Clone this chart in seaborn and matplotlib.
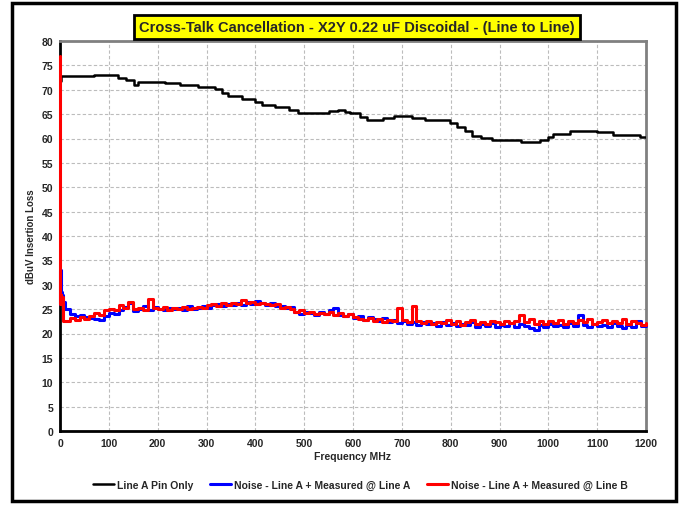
import matplotlib
matplotlib.use('Agg')
import matplotlib.pyplot as plt
import seaborn as sns
import numpy as np
from matplotlib.patches import Rectangle

# Line A pin only (step breakpoints, MHz / dBuV)
pin_freq = [0, 2, 70, 118, 136, 152, 160, 215, 246, 283, 317, 331, 345, 372, 399,
            413, 440, 468, 488, 550, 570, 584, 594, 614, 628, 662, 683, 720, 747,
            798, 812, 829, 843, 863, 884, 945, 983, 1000, 1010, 1044, 1099, 1133,
            1188, 1200]
pin_vals = [71.8, 72.8, 73.0, 72.5, 72.1, 71.0, 71.6, 71.4, 70.9, 70.5, 70.1, 69.4,
            68.8, 68.2, 67.5, 66.8, 66.5, 65.8, 65.3, 65.6, 65.9, 65.5, 65.2, 64.5,
            63.8, 64.3, 64.7, 64.3, 63.8, 63.2, 62.3, 61.6, 60.6, 60.1, 59.6, 59.3,
            59.7, 60.3, 60.9, 61.6, 61.3, 60.8, 60.4, 60.4]

# noise measurements
start_freq = [0, 1, 2, 3, 5, 7]
grid_freq = list(range(10, 1201, 10))
noise_freq = start_freq + grid_freq

line_a_vals = [26.0, 33.0, 31.5, 28.5, 28.0, 26.5,
               25.0, 24.0, 23.5, 23.8, 23.4, 23.2, 23.0, 22.8, 23.6, 24.2,
               24.0, 24.8, 25.5, 26.2, 24.7, 25.0, 25.6, 24.8, 25.4, 25.1,
               24.8, 25.2, 25.0, 25.3, 24.8, 25.6, 25.0, 25.2, 25.6, 25.3,
               25.8, 26.1, 25.6, 26.0, 25.8, 26.3, 25.9, 26.4, 26.0, 26.6,
               26.2, 25.9, 26.3, 25.7, 25.6, 25.2, 25.4, 24.4, 24.0, 24.5,
               24.2, 23.8, 24.4, 24.0, 24.9, 25.2, 23.8, 23.5, 23.9, 23.2,
               23.6, 22.8, 23.3, 22.9, 22.5, 23.1, 22.4, 22.7, 22.2, 22.5,
               22.0, 22.3, 21.7, 22.4, 21.9, 22.2, 21.6, 22.3, 21.8, 22.1,
               21.5, 22.0, 21.7, 22.3, 21.4, 21.9, 21.6, 22.2, 21.3, 21.8,
               21.5, 22.1, 21.4, 21.9, 21.6, 21.2, 20.8, 21.7, 21.4, 22.0,
               21.5, 21.8, 21.3, 22.2, 21.6, 23.8, 21.7, 21.4, 22.0, 21.5,
               21.8, 21.3, 22.1, 21.6, 21.2, 21.8, 21.4, 22.6, 21.5, 21.7]

line_b_vals = [77.0, 26.0, 28.0, 26.0, 27.5, 22.5,
               22.5, 23.2, 22.8, 23.3, 23.0, 23.6, 24.3, 23.8, 24.8, 25.0,
               24.8, 25.8, 25.2, 26.5, 25.0, 25.2, 24.8, 27.0, 25.3, 25.0,
               25.5, 24.9, 25.2, 25.0, 25.4, 25.1, 25.3, 25.5, 25.2, 25.8,
               26.0, 25.7, 26.2, 25.9, 26.3, 26.1, 26.8, 26.2, 26.4, 26.0,
               26.3, 26.1, 25.8, 26.0, 25.3, 25.5, 25.1, 24.5, 24.8, 24.2,
               24.5, 24.0, 24.3, 24.1, 24.4, 23.8, 24.2, 23.6, 23.9, 23.4,
               23.0, 22.7, 23.1, 22.6, 22.9, 22.4, 22.8, 22.5, 25.2, 22.7,
               22.3, 25.6, 22.6, 22.2, 22.5, 21.9, 22.4, 22.1, 22.8, 22.0,
               22.5, 21.8, 22.3, 22.7, 21.9, 22.4, 22.0, 22.6, 22.3, 21.9,
               22.6, 22.1, 22.5, 23.8, 22.4, 22.9, 22.0, 22.5, 21.9, 22.6,
               22.2, 22.8, 22.0, 22.5, 22.1, 22.7, 22.3, 22.9, 22.0, 22.4,
               22.8, 22.1, 22.6, 22.2, 22.9, 22.0, 22.5, 22.2, 21.8, 22.1]

sns.set_style('white')
plt.rcParams['font.family'] = ['Liberation Sans', 'DejaVu Sans']
plt.rcParams['font.weight'] = 'bold'

fig = plt.figure(figsize=(6.8, 5.06), dpi=100)
ax = fig.add_axes([60 / 680, 1 - 432 / 506, 586 / 680, 390 / 506])

sns.lineplot(x=pin_freq, y=pin_vals, ax=ax, color='black', linewidth=1.8,
             drawstyle='steps-post', estimator=None, sort=False, zorder=3,
             label='Line A Pin Only')
sns.lineplot(x=noise_freq, y=line_a_vals, ax=ax, color='#0000ff', linewidth=2.2,
             drawstyle='steps-post', estimator=None, sort=False, zorder=3,
             clip_on=False, label='Noise - Line A + Measured @ Line A')
sns.lineplot(x=noise_freq, y=line_b_vals, ax=ax, color='#ff0000', linewidth=2.2,
             drawstyle='steps-post', estimator=None, sort=False, zorder=3,
             clip_on=False, label='Noise - Line A + Measured @ Line B')

ax.set_xlim(0, 1200)
ax.set_ylim(0, 80)
ax.set_xticks(range(0, 1201, 100))
ax.set_yticks(range(0, 81, 5))
ax.grid(True, color='#bcbcbc', linestyle=(0, (3, 2)), linewidth=0.8)
ax.set_axisbelow(True)
ax.tick_params(axis='both', labelsize=7.5, length=3, width=1.5, color='black',
               direction='out', pad=2)
for lbl in ax.get_xticklabels() + ax.get_yticklabels():
    lbl.set_fontweight('bold')
ax.set_xlabel('Frequency MHz', fontsize=7.5, fontweight='bold', labelpad=2)
ax.set_ylabel('dBuV Insertion Loss', fontsize=7, fontweight='bold', labelpad=4)
ax.spines['left'].set_color('black')
ax.spines['bottom'].set_color('black')
ax.spines['left'].set_linewidth(2)
ax.spines['bottom'].set_linewidth(2)
ax.spines['top'].set_color('#808080')
ax.spines['right'].set_color('#808080')
ax.spines['top'].set_linewidth(2)
ax.spines['right'].set_linewidth(2)

ax.get_legend().remove()
handles, labels = ax.get_legend_handles_labels()
fig.legend(handles, labels, loc='center', bbox_to_anchor=(0.53, 1 - 486 / 506),
           ncol=3, frameon=False, handlelength=2.0, handletextpad=0.3,
           columnspacing=1.6, prop={'size': 7.5, 'weight': 'bold'})

fig.text(357 / 680, 1 - 28 / 506,
         'Cross-Talk Cancellation - X2Y 0.22 uF Discoidal - (Line to Line)',
         ha='center', va='center', fontsize=10.5, fontweight='bold',
         bbox=dict(boxstyle='square,pad=0.35', facecolor='#ffff00',
                   edgecolor='black', linewidth=2))

fig.patches.append(Rectangle((12 / 680, 4 / 506), 664 / 680, 498 / 506,
                             transform=fig.transFigure, fill=False,
                             edgecolor='black', linewidth=2.5))

fig.savefig('out.png', dpi=100, facecolor='white')
